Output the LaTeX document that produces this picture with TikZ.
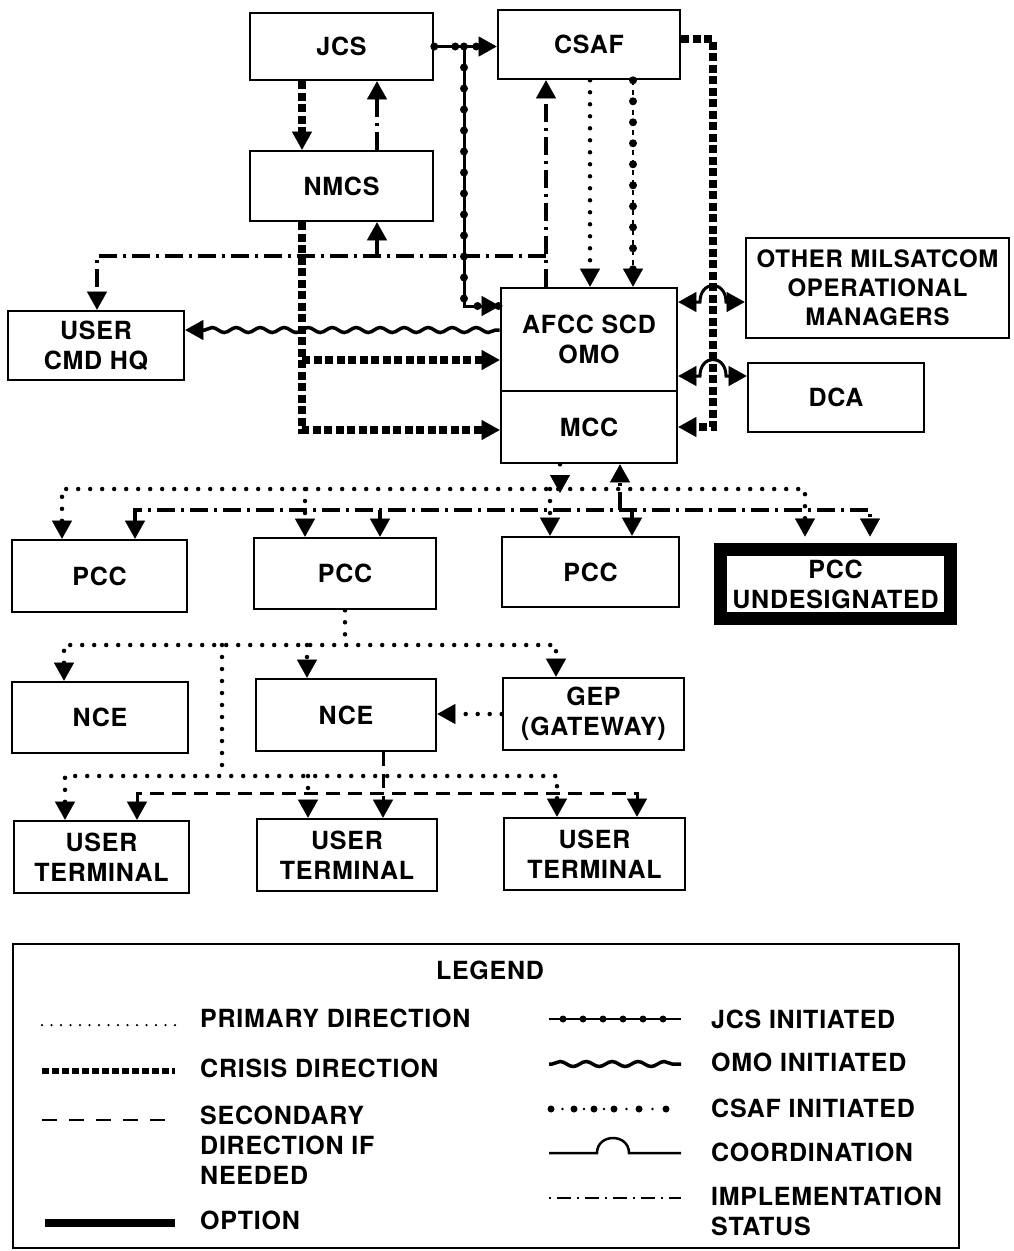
\documentclass[tikz,border=0pt]{standalone}
\usepackage{fontspec}
\setmainfont{TeX Gyre Heros}[LetterSpace=3]
\usetikzlibrary{arrows.meta,decorations.pathmorphing}
\newcommand\boxfont{\fontsize{25}{30}\selectfont\bfseries}
\newcommand\smallboxfont{\fontsize{24}{29}\selectfont\bfseries}
\tikzset{
  tip/.style={-{Triangle[length=18pt,width=20pt,line width=0.4pt]}},
  tips/.style={{Triangle[length=18pt,width=20pt,line width=0.4pt]}-{Triangle[length=18pt,width=20pt,line width=0.4pt]}},
  box/.style={draw, line width=2.6pt, inner sep=0pt, align=center, font=\boxfont},
  lt/.style={anchor=west, inner sep=0pt, align=left, font=\boxfont},
  prim/.style={line width=4.5pt, line cap=round, dash pattern=on 0pt off 12pt},
  crisis/.style={line width=8pt, dash pattern=on 8pt off 3.5pt},
  impl/.style={line width=3.5pt, dash pattern=on 18pt off 6pt on 3pt off 6pt},
  secd/.style={line width=3pt, dash pattern=on 14pt off 8pt},
  jcsl/.style={line width=3pt, postaction={draw, arrows=-, line width=8pt, line cap=round, dash pattern=on 0pt off 21pt}},
  csafl/.style={line width=1.5pt, dash pattern=on 5pt off 5pt, postaction={draw, arrows=-, line width=8pt, line cap=round, dash pattern=on 0pt off 21pt}},
  omo/.style={line width=3.5pt, decorate, decoration={snake, segment length=24pt, amplitude=2.5pt, pre length=4pt, post length=18pt}},
  coord/.style={line width=3pt},
}
\begin{document}
\begin{tikzpicture}[x=1pt, y=-1pt]
\useasboundingbox (0,0) rectangle (1013,1251);
% boxes
\node[box, minimum width=183pt, minimum height=67pt] (jcs) at (341.5,46.5) {JCS};
\node[box, minimum width=182pt, minimum height=69pt] (csaf) at (589,44.5) {CSAF};
\node[box, minimum width=183pt, minimum height=70pt] (nmcs) at (341.5,186) {NMCS};
\node[box, minimum width=176pt, minimum height=103pt] (afcc) at (589,339.5) {AFCC SCD\\OMO};
\node[box, minimum width=176pt, minimum height=72pt] (mcc) at (589,427) {MCC};
\node[box, minimum width=263pt, minimum height=100pt, font=\smallboxfont] (other) at (877.5,288) {OTHER MILSATCOM\\OPERATIONAL\\MANAGERS};
\node[box, minimum width=176pt, minimum height=69pt] (dca) at (836,397.5) {DCA};
\node[box, minimum width=176pt, minimum height=69pt] (cmdhq) at (96,345.5) {USER\\CMD HQ};
\node[box, minimum width=175pt, minimum height=72pt] (pcc1) at (99.5,576) {PCC};
\node[box, minimum width=182pt, minimum height=71pt] (pcc2) at (345,573.5) {PCC};
\node[box, minimum width=177pt, minimum height=70pt] (pcc3) at (590.5,572) {PCC};
\node[box, line width=13pt, minimum width=230pt, minimum height=69pt] (pccu) at (835.5,584) {PCC\\UNDESIGNATED};
\coordinate (pcut) at ([yshift=6.5pt]pccu.north);
\node[box, minimum width=176pt, minimum height=71pt] (nce1) at (100,717.5) {NCE};
\node[box, minimum width=180pt, minimum height=72pt] (nce2) at (346,715) {NCE};
\node[box, minimum width=181pt, minimum height=72pt] (gep) at (593.5,714) {GEP\\(GATEWAY)};
\node[box, minimum width=175pt, minimum height=72pt] (ut1) at (101.5,857) {USER\\TERMINAL};
\node[box, minimum width=180pt, minimum height=72pt] (ut2) at (347,855) {USER\\TERMINAL};
\node[box, minimum width=181pt, minimum height=72pt] (ut3) at (594.5,854) {USER\\TERMINAL};

% JCS initiated
\coordinate (jb) at (464,46.5);
\draw[jcsl,tip] (jcs.east) -- (jcs.east -| csaf.west);
\draw[jcsl,tip] (jb) -- (464,306) -- (afcc.west |- 0,306);
% crisis JCS -> NMCS
\draw[crisis,tip] (302,0 |- jcs.south) -- (302,0 |- nmcs.north);
% implementation status
\draw[impl,tip] (377,0 |- nmcs.north) -- (377,0 |- jcs.south);
\draw[impl,tip] (546,0 |- afcc.north) -- (546,0 |- csaf.south);
\draw[impl,tip] (546,256) -- (97,256) -- (97,0 |- cmdhq.north);
\draw[impl,tip] (377,256) -- (377,0 |- nmcs.south);
% primary CSAF -> AFCC
\draw[prim,tip] (590,0 |- csaf.south) -- (590,0 |- afcc.north);
% CSAF initiated
\draw[csafl,tip] (633,0 |- csaf.south) -- (633,0 |- afcc.north);
% crisis CSAF -> MCC
\draw[crisis,tip] (csaf.east |- 0,39) -- (713,39) -- (713,427) -- (mcc.east);
% coordination
\draw[coord,tips] (afcc.east |- 0,302) -- (700,302) .. controls (700,280) and (726,280) .. (726,302) -- (other.west |- 0,302);
\draw[coord,tips] (afcc.east |- 0,376) -- (700,376) .. controls (700,354) and (726,354) .. (726,376) -- (dca.west |- 0,376);
% crisis NMCS -> AFCC / MCC
\draw[crisis,tip] (302,0 |- nmcs.south) -- (302,430) -- (mcc.west |- 0,430);
\draw[crisis,tip] (302,360) -- (afcc.west |- 0,360);
% OMO initiated
\draw[omo,tip] (afcc.west |- 0,330) -- (cmdhq.east |- 0,330);

% MCC -> PCC
\draw[prim,tip] (560,0 |- mcc.south) -- (560,493);
\draw[prim,tips] (62,0 |- pcc1.north) -- (62,489) -- (805,489) -- (805,0 |- pcut);
\draw[prim,tip] (305,489) -- (305,0 |- pcc2.north);
\draw[prim,tip] (550,489) -- (550,0 |- pcc3.north);
\draw[impl,tips] (135,0 |- pcc1.north) -- (135,510) -- (870,510) -- (870,0 |- pcut);
\draw[impl,tip] (380,510) -- (380,0 |- pcc2.north);
\draw[impl,tip] (632,510) -- (632,0 |- pcc3.north);
\draw[impl,tip] (620,510) -- (620,0 |- mcc.south);

% PCC -> NCE / terminals
\draw[prim] (pcc2.south) -- (pcc2.south |- 0,645);
\draw[prim,tips] (64,0 |- nce1.north) -- (64,645) -- (556,645) -- (556,0 |- gep.north);
\draw[prim,tip] (307,645) -- (307,0 |- nce2.north);
\draw[prim] (222,645) -- (222,776);
\draw[prim,tips] (65,0 |- ut1.north) -- (65,776) -- (557,776) -- (557,0 |- ut3.north);
\draw[prim,tip] (308,776) -- (308,0 |- ut2.north);
\draw[prim,tip] (gep.west) -- (gep.west -| nce2.east);
\draw[secd,tip] (383,0 |- nce2.south) -- (383,0 |- ut2.north);
\draw[secd,tips] (137,0 |- ut1.north) -- (137,793) -- (637,793) -- (637,0 |- ut3.north);

% legend
\node[draw, line width=2.5pt, minimum width=946pt, minimum height=304pt, inner sep=0pt] (legbox) at (486,1096) {};
\node[font=\boxfont, inner sep=0pt] (legt) at (490,970) {LEGEND};
\draw[line width=2.5pt, line cap=round, dash pattern=on 0pt off 9.5pt] (42,1025) -- (175,1025);
\node[lt] (l1) at (200,1018) {PRIMARY DIRECTION};
\draw[line width=6pt, dash pattern=on 7pt off 3pt] (42,1071) -- (175,1071);
\node[lt] (l2) at (200,1068) {CRISIS DIRECTION};
\draw[line width=2pt, dash pattern=on 15pt off 12pt] (42,1120) -- (175,1120);
\node[lt] (l3) at (200,1145) {SECONDARY\\DIRECTION IF\\NEEDED};
\draw[line width=8pt] (45,1223) -- (175,1223);
\node[lt] (l4) at (200,1220) {OPTION};
\draw[line width=2.5pt] (549,1019) -- (681,1019);
\foreach \xx in {563,583,603,623,643,663} \fill (\xx,1019) circle (3.5pt);
\node[lt] (r1) at (711,1019) {JCS INITIATED};
\draw[line width=3.5pt, decorate, decoration={snake, segment length=26pt, amplitude=2.5pt, pre length=3pt, post length=3pt}] (549,1064) -- (681,1064);
\node[lt] (r2) at (711,1062) {OMO INITIATED};
\foreach \xx in {551,574,594,614,639,666} \fill (\xx,1109) circle (3.5pt);
\foreach \xx in {562.5,584,604,626.5,652.5} \fill (\xx,1109) circle (1.3pt);
\node[lt] (r3) at (711,1108) {CSAF INITIATED};
\draw[line width=2.5pt] (549,1153) -- (597,1153) .. controls (597,1133) and (629,1133) .. (629,1153) -- (681,1153);
\node[lt] (r4) at (711,1152) {COORDINATION};
\draw[line width=2.5pt, dash pattern=on 2pt off 6pt on 14pt off 6pt] (549,1198) -- (681,1198);
\node[lt] (r5) at (711,1211) {IMPLEMENTATION\\STATUS};
\end{tikzpicture}
\end{document}
